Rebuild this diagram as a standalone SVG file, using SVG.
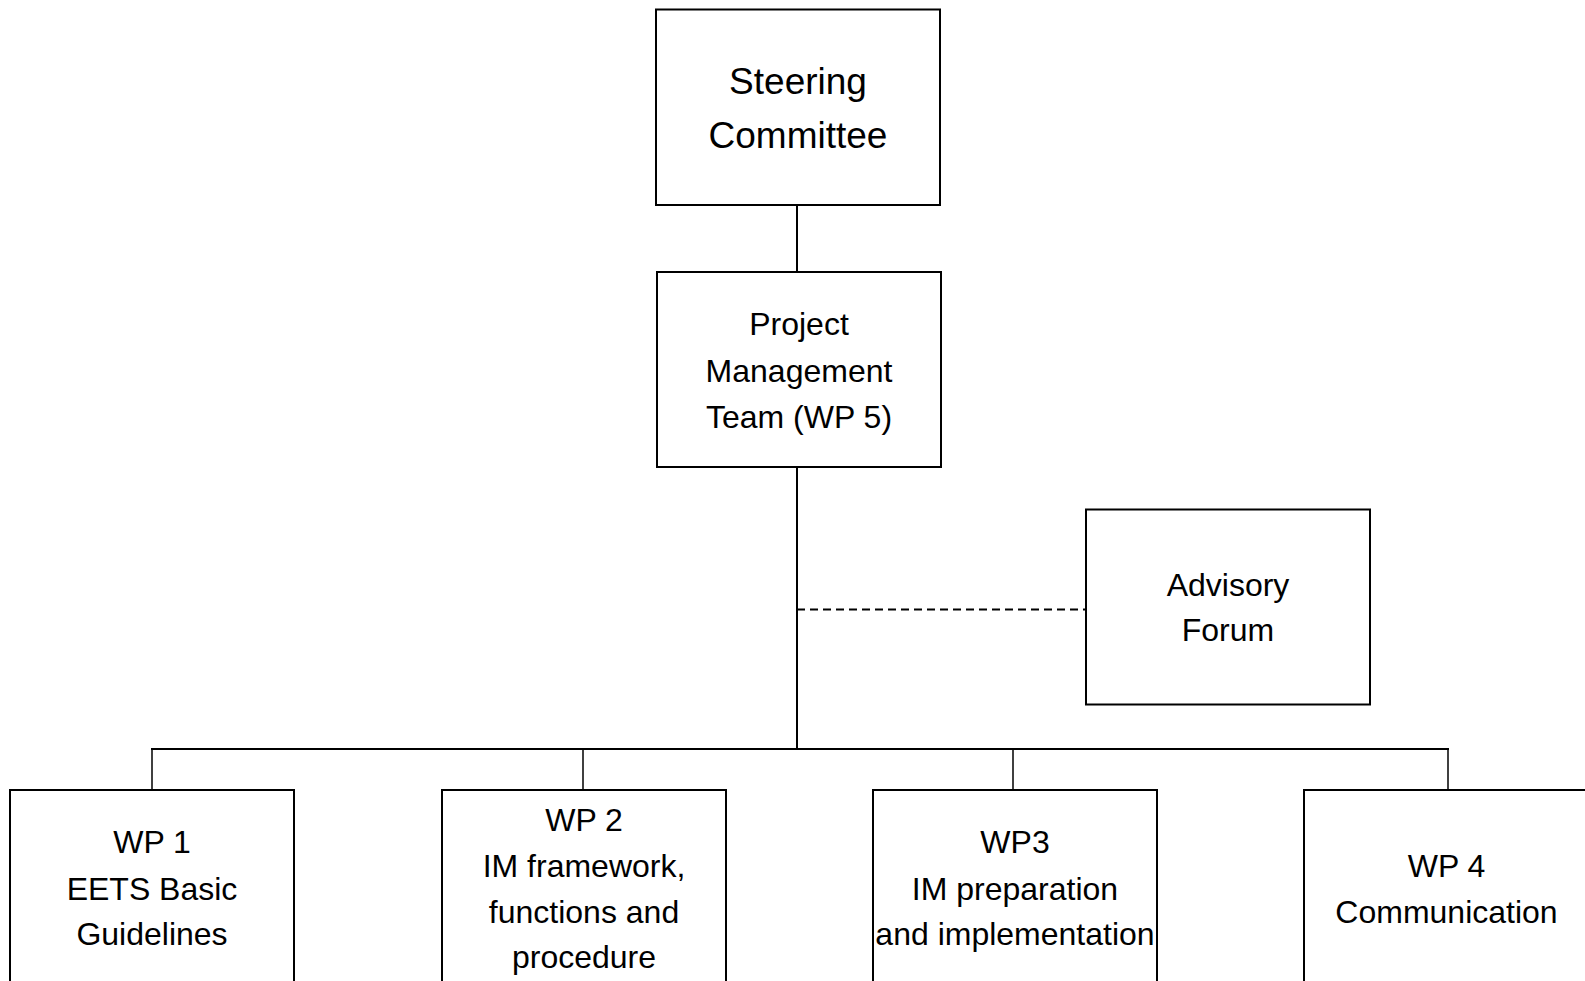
<svg xmlns="http://www.w3.org/2000/svg" width="1585" height="981" viewBox="0 0 1585 981">
<style>
.box{fill:#fff;stroke:#000;stroke-width:2}
.t{font-family:"Liberation Sans",Arial,sans-serif;font-size:32px;fill:#000;text-anchor:middle}
.big{font-size:37px}
.ln{stroke:#000;stroke-width:2;fill:none}
.thin{stroke:#000;stroke-width:1.5;fill:none}
.dash{stroke:#000;stroke-width:2;fill:none;stroke-dasharray:8 5}
</style>
<rect width="1585" height="981" fill="#fff"/>
<g id="connectors">
<line class="ln" x1="797" y1="205" x2="797" y2="272"/>
<line class="ln" x1="797" y1="467" x2="797" y2="749"/>
<line class="dash" x1="797" y1="609.5" x2="1086" y2="609.5"/>
<line class="ln" x1="151" y1="749" x2="1449" y2="749"/>
<line class="thin" x1="152" y1="749" x2="152" y2="790"/>
<line class="thin" x1="583" y1="749" x2="583" y2="790"/>
<line class="thin" x1="1013" y1="749" x2="1013" y2="790"/>
<line class="thin" x1="1448" y1="749" x2="1448" y2="790"/>
</g>
<g id="steering">
<rect class="box" x="656" y="9.5" width="284" height="195.5"/>
<text class="t big" x="798" y="94">Steering</text>
<text class="t big" x="798" y="147.5">Committee</text>
</g>
<g id="pmt">
<rect class="box" x="657" y="272" width="284" height="195"/>
<text class="t" x="799" y="335">Project</text>
<text class="t" x="799" y="381.5">Management</text>
<text class="t" x="799" y="428">Team (WP 5)</text>
</g>
<g id="advisory">
<rect class="box" x="1086" y="509.5" width="284" height="195"/>
<text class="t" x="1228" y="595.5">Advisory</text>
<text class="t" x="1228" y="641">Forum</text>
</g>
<g id="wp1">
<rect class="box" x="10" y="790" width="284" height="220"/>
<text class="t" x="152" y="853">WP 1</text>
<text class="t" x="152" y="899.5">EETS Basic</text>
<text class="t" x="152" y="945">Guidelines</text>
</g>
<g id="wp2">
<rect class="box" x="442" y="790" width="284" height="220"/>
<text class="t" x="584" y="831">WP 2</text>
<text class="t" x="584" y="876.5">IM framework,</text>
<text class="t" x="584" y="923">functions and</text>
<text class="t" x="584" y="968">procedure</text>
</g>
<g id="wp3">
<rect class="box" x="873" y="790" width="284" height="220"/>
<text class="t" x="1015" y="853">WP3</text>
<text class="t" x="1015" y="899.5">IM preparation</text>
<text class="t" x="1015" y="945">and implementation</text>
</g>
<g id="wp4">
<rect class="box" x="1304" y="790" width="284" height="220"/>
<text class="t" x="1446.5" y="876.5">WP 4</text>
<text class="t" x="1446.5" y="923">Communication</text>
</g>
</svg>
